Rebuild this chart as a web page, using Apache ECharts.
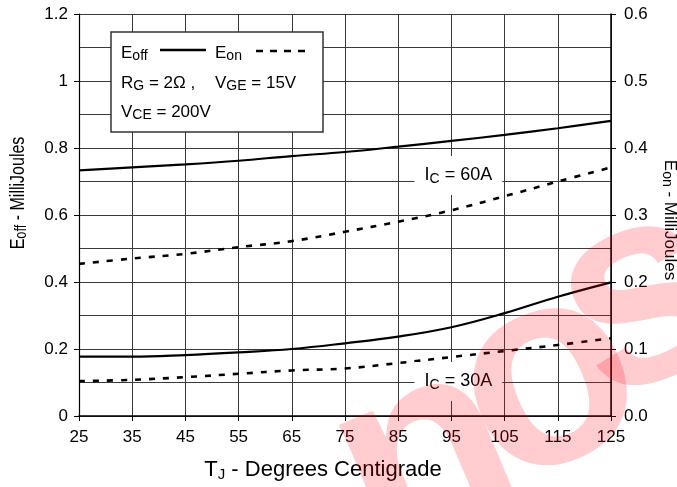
<!DOCTYPE html>
<html><head><meta charset="utf-8">
<script src="https://cdn.jsdelivr.net/npm/echarts@6/dist/echarts.min.js"></script>
<style>html,body{margin:0;padding:0;background:#fff}#c{width:677px;height:487px}</style>
</head><body><div id="c"></div>
<script>
// Junction temperature categories (°C)
const temps = ['25','35','45','55','65','75','85','95','105','115','125'];
// Eoff (left axis, mJ)
const eoff60 = [0.733, 0.742, 0.751, 0.762, 0.776, 0.788, 0.804, 0.821, 0.839, 0.859, 0.881];
const eoff30 = [0.177, 0.177, 0.182, 0.190, 0.200, 0.217, 0.237, 0.265, 0.307, 0.356, 0.399];
// Eon (right axis, mJ)
const eon60 = [0.227, 0.235, 0.242, 0.252, 0.261, 0.275, 0.290, 0.307, 0.328, 0.350, 0.371];
const eon30 = [0.052, 0.054, 0.058, 0.063, 0.068, 0.071, 0.079, 0.088, 0.097, 0.106, 0.116];
// annotation labels
const ann60 = {cat: '95', val: 0.7, text: '60A'};
const ann30 = {cat: '95', val: 0.1, text: '30A'};

const FONT = '"Liberation Sans", Arial, sans-serif';
const chart = echarts.init(document.getElementById('c'));

const annLabel = (t) => ({
  show: true,
  position: 'inside',
  formatter: '{m|I}{s|C}{m| = ' + t + '}',
  backgroundColor: '#fff',
  padding: [9, 10, 9, 10],
  rich: {
    m: {fontSize: 18, fontFamily: FONT, color: '#000'},
    s: {fontSize: 14, fontFamily: FONT, color: '#000', padding: [7, 0, 0, 0]}
  }
});

const rich17 = {
  m: {fontSize: 17, fontFamily: FONT, fill: '#000'},
  s: {fontSize: 14, fontFamily: FONT, fill: '#000', padding: [7, 0, 0, 0]}
};
const rich20 = {
  m: {fontSize: 20, fontFamily: FONT, fill: '#000'},
  s: {fontSize: 16, fontFamily: FONT, fill: '#000', padding: [8, 0, 0, 0]}
};

const wmStyle = (ch) => ({text: ch, font: 'bold 280px "Liberation Sans", Arial, sans-serif',
  fill: 'rgba(255,0,20,0.2)', align: 'center', verticalAlign: 'middle'});

const option = {
  animation: false,
  backgroundColor: '#fff',
  grid: {left: 79, right: 66, top: 14, bottom: 71},
  xAxis: {
    type: 'category', data: temps, boundaryGap: false,
    axisLine: {lineStyle: {color: '#000', width: 1.5}},
    axisTick: {show: true, length: 5, lineStyle: {color: '#000'}},
    axisLabel: {fontSize: 17, fontFamily: FONT, color: '#000', margin: 13},
    splitLine: {show: true, lineStyle: {color: '#3a3a3a', width: 1}}
  },
  yAxis: [{
    type: 'value', min: 0, max: 1.2, interval: 0.2, position: 'left',
    axisLine: {show: true, lineStyle: {color: '#000', width: 1.2}},
    axisTick: {show: true, length: 5, lineStyle: {color: '#000'}},
    axisLabel: {fontSize: 17, fontFamily: FONT, color: '#000', margin: 11},
    splitLine: {show: true, lineStyle: {color: '#3a3a3a', width: 1}},
    minorTick: {show: false, splitNumber: 2},
    minorSplitLine: {show: true, lineStyle: {color: '#3a3a3a', width: 1}}
  }, {
    type: 'value', min: 0, max: 0.6, interval: 0.1, position: 'right',
    axisLine: {show: true, lineStyle: {color: '#000', width: 1.5}},
    axisTick: {show: true, length: 5, lineStyle: {color: '#000'}},
    axisLabel: {fontSize: 17, fontFamily: FONT, color: '#000', margin: 13, formatter: v => v.toFixed(1)},
    splitLine: {show: false}
  }],
  series: [
    {name: 'Eoff 60A', type: 'line', data: eoff60, yAxisIndex: 0, smooth: 0.4, symbol: 'none',
      lineStyle: {color: '#000', width: 2.2}, z: 3,
      markPoint: {symbol: 'circle', symbolSize: 0, silent: true,
        data: [{coord: [ann60.cat, ann60.val], label: Object.assign(annLabel(ann60.text), {offset: [7, -6]})}]}},
    {name: 'Eoff 30A', type: 'line', data: eoff30, yAxisIndex: 0, smooth: 0.4, symbol: 'none',
      lineStyle: {color: '#000', width: 2.2}, z: 3,
      markPoint: {symbol: 'circle', symbolSize: 0, silent: true,
        data: [{coord: [ann30.cat, ann30.val], label: Object.assign(annLabel(ann30.text), {offset: [7, -1]})}]}},
    {name: 'Eon 60A', type: 'line', data: eon60, yAxisIndex: 1, smooth: 0.4, symbol: 'none',
      lineStyle: {color: '#000', width: 2.6, type: [6, 8]}, z: 3},
    {name: 'Eon 30A', type: 'line', data: eon30, yAxisIndex: 1, smooth: 0.4, symbol: 'none',
      lineStyle: {color: '#000', width: 2.6, type: [6, 8]}, z: 3}
  ],
  graphic: [
    // legend box
    {type: 'rect', shape: {x: 111, y: 32, width: 212, height: 100}, z: 50,
      style: {fill: '#fff', stroke: '#333', lineWidth: 1.5}},
    {type: 'text', x: 121, y: 53, z: 51, style: {text: '{m|E}{s|off}', rich: rich17, verticalAlign: 'middle', align: 'left'}},
    {type: 'line', shape: {x1: 160, y1: 50, x2: 206, y2: 50}, z: 51, style: {stroke: '#000', lineWidth: 2.6}},
    {type: 'text', x: 215, y: 53, z: 51, style: {text: '{m|E}{s|on}', rich: rich17, verticalAlign: 'middle', align: 'left'}},
    {type: 'line', shape: {x1: 256, y1: 51, x2: 312, y2: 51}, z: 51, style: {stroke: '#000', lineWidth: 2.6, lineDash: [7, 7]}},
    {type: 'text', x: 121, y: 83, z: 51, style: {text: '{m|R}{s|G}{m| = 2Ω ,}', rich: rich17, verticalAlign: 'middle', align: 'left'}},
    {type: 'text', x: 215, y: 83, z: 51, style: {text: '{m|V}{s|GE}{m| = 15V}', rich: rich17, verticalAlign: 'middle', align: 'left'}},
    {type: 'text', x: 121, y: 112, z: 51, style: {text: '{m|V}{s|CE}{m| = 200V}', rich: rich17, verticalAlign: 'middle', align: 'left'}},
    // axis names
    {type: 'text', x: 323, y: 470, z: 51, style: {text: '{m|T}{s|J}{m| - Degrees Centigrade}',
      rich: {m: {fontSize: 22, fontFamily: FONT, fill: '#000'}, s: {fontSize: 15, fontFamily: FONT, fill: '#000', padding: [10, 0, 0, 0]}},
      align: 'center', verticalAlign: 'middle'}},
    {type: 'text', x: 18, y: 193, rotation: Math.PI / 2, scaleX: 0.8, z: 51, style: {text: '{m|E}{s|off}{m| - MilliJoules}',
      rich: rich20, align: 'center', verticalAlign: 'middle'}},
    {type: 'text', x: 670, y: 220, rotation: -Math.PI / 2, z: 51, style: {text: '{m|E}{s|on}{m| - MilliJoules}',
      rich: rich17, align: 'center', verticalAlign: 'middle'}},
    // watermark letters
    {type: 'text', x: 428, y: 464, rotation: 0.4, z: 100, silent: true, style: wmStyle('n')},
    {type: 'text', x: 549, y: 384, rotation: 0.4, z: 100, silent: true, style: wmStyle('o')},
    {type: 'text', x: 643, y: 302, rotation: 0.4, z: 100, silent: true, style: wmStyle('s')}
  ]
};
chart.setOption(option);
</script>
</body></html>
